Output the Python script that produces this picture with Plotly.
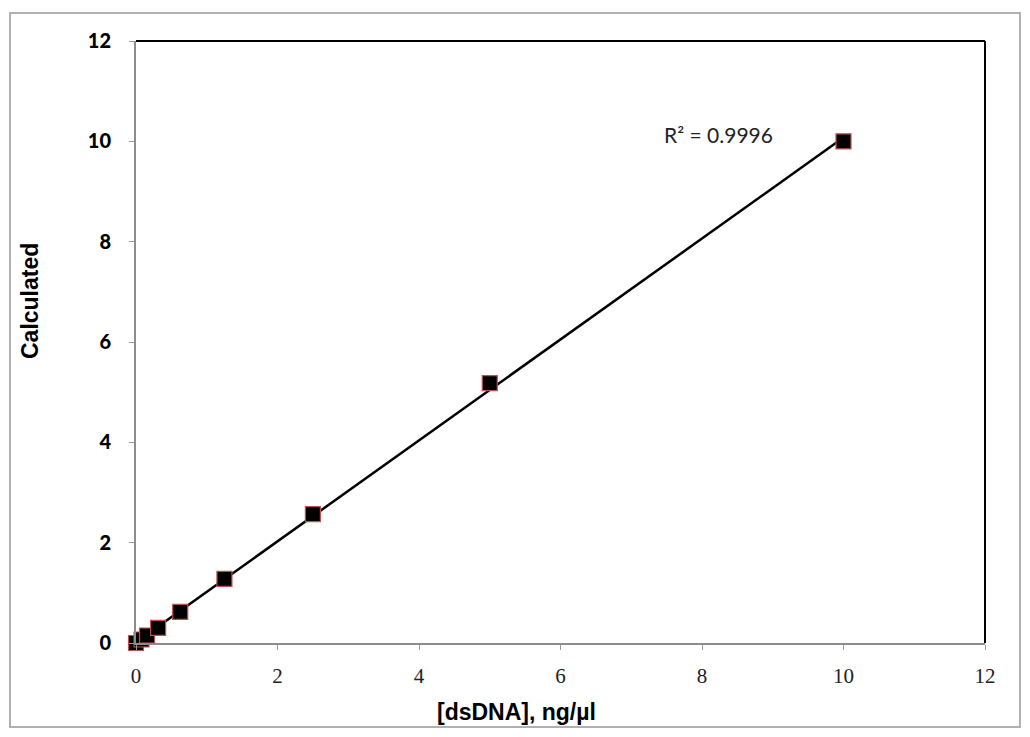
import numpy as np
import plotly.graph_objects as go

# standaardreeks dsDNA (ng/ul) en berekende waarden
conc = [0, 0.078, 0.156, 0.3125, 0.625, 1.25, 2.5, 5, 10]
calculated = [0, 0.07, 0.15, 0.30, 0.62, 1.28, 2.57, 5.18, 10.0]
x_ticks = [0, 2, 4, 6, 8, 10, 12]
y_ticks = [0, 2, 4, 6, 8, 10, 12]
r2_label = "R² = 0.9996"

# lineaire trendlijn
slope, intercept = np.polyfit(conc, calculated, 1)
fit_x = [min(conc), max(conc)]
fit_y = [slope * v + intercept for v in fit_x]

fig = go.Figure()

fig.add_trace(go.Scatter(
    x=fit_x, y=fit_y, mode='lines',
    line=dict(color='black', width=2.5),
    hoverinfo='skip'
))

fig.add_trace(go.Scatter(
    x=conc, y=calculated, mode='markers',
    cliponaxis=False,
    marker=dict(symbol='square', size=15, color='black',
                line=dict(color='#c0504d', width=1.2))
))

fig.update_layout(
    width=1014,   # pagina heeft 8px body-marge
    height=721,
    showlegend=False,
    plot_bgcolor='white',
    paper_bgcolor='white',
    margin=dict(l=128, r=37, t=33, b=86),
    xaxis=dict(
        range=[0, 12],
        tickvals=x_ticks,
        ticks='outside',
        ticklen=5,
        tickcolor='#999999',
        ticklabelstandoff=8,
        showline=True,
        linecolor='#8c8c8c',
        linewidth=2,
        showgrid=False,
        zeroline=False,
        tickfont=dict(family='Liberation Serif', size=21, color='#222222'),
    ),
    yaxis=dict(
        range=[0, 12],
        tickvals=y_ticks,
        ticks='outside',
        ticklen=5,
        tickcolor='#999999',
        ticklabelstandoff=14,
        showline=True,
        linecolor='#8c8c8c',
        linewidth=2,
        showgrid=False,
        zeroline=False,
        tickfont=dict(family='Lato', size=20, color='black', weight=900),
    ),
    shapes=[
        # zwarte boven- en rechterrand van het plotvlak
        dict(type='line', xref='paper', yref='paper', x0=0, x1=1, y0=1, y1=1,
             line=dict(color='black', width=2)),
        dict(type='line', xref='paper', yref='paper', x0=1, x1=1, y0=0, y1=1,
             line=dict(color='black', width=2)),
        # grijze kader rond de hele grafiek
        dict(type='rect', xref='paper', yref='paper',
             x0=-0.1484, x1=1.0412, y0=-0.1395, y1=1.0465,
             line=dict(color='#b0b0b0', width=2)),
    ],
    annotations=[
        dict(text='Calculated', xref='paper', yref='paper', x=-0.1249, y=0.568,
             xanchor='center', yanchor='middle',
             textangle=-90, showarrow=False,
             font=dict(family='Liberation Sans', size=23, color='black', weight='bold')),
        dict(text='[dsDNA], ng/µl', xref='paper', yref='paper', x=0.4476, y=-0.1146,
             xanchor='center', yanchor='middle',
             showarrow=False,
             font=dict(family='Liberation Sans', size=23, color='black', weight='bold')),
        dict(text=r2_label, xref='x', yref='y', x=8.23, y=10.13, showarrow=False,
             font=dict(family='Lato', size=21, color='#222222')),
    ],
)

fig.write_html("out.html")
